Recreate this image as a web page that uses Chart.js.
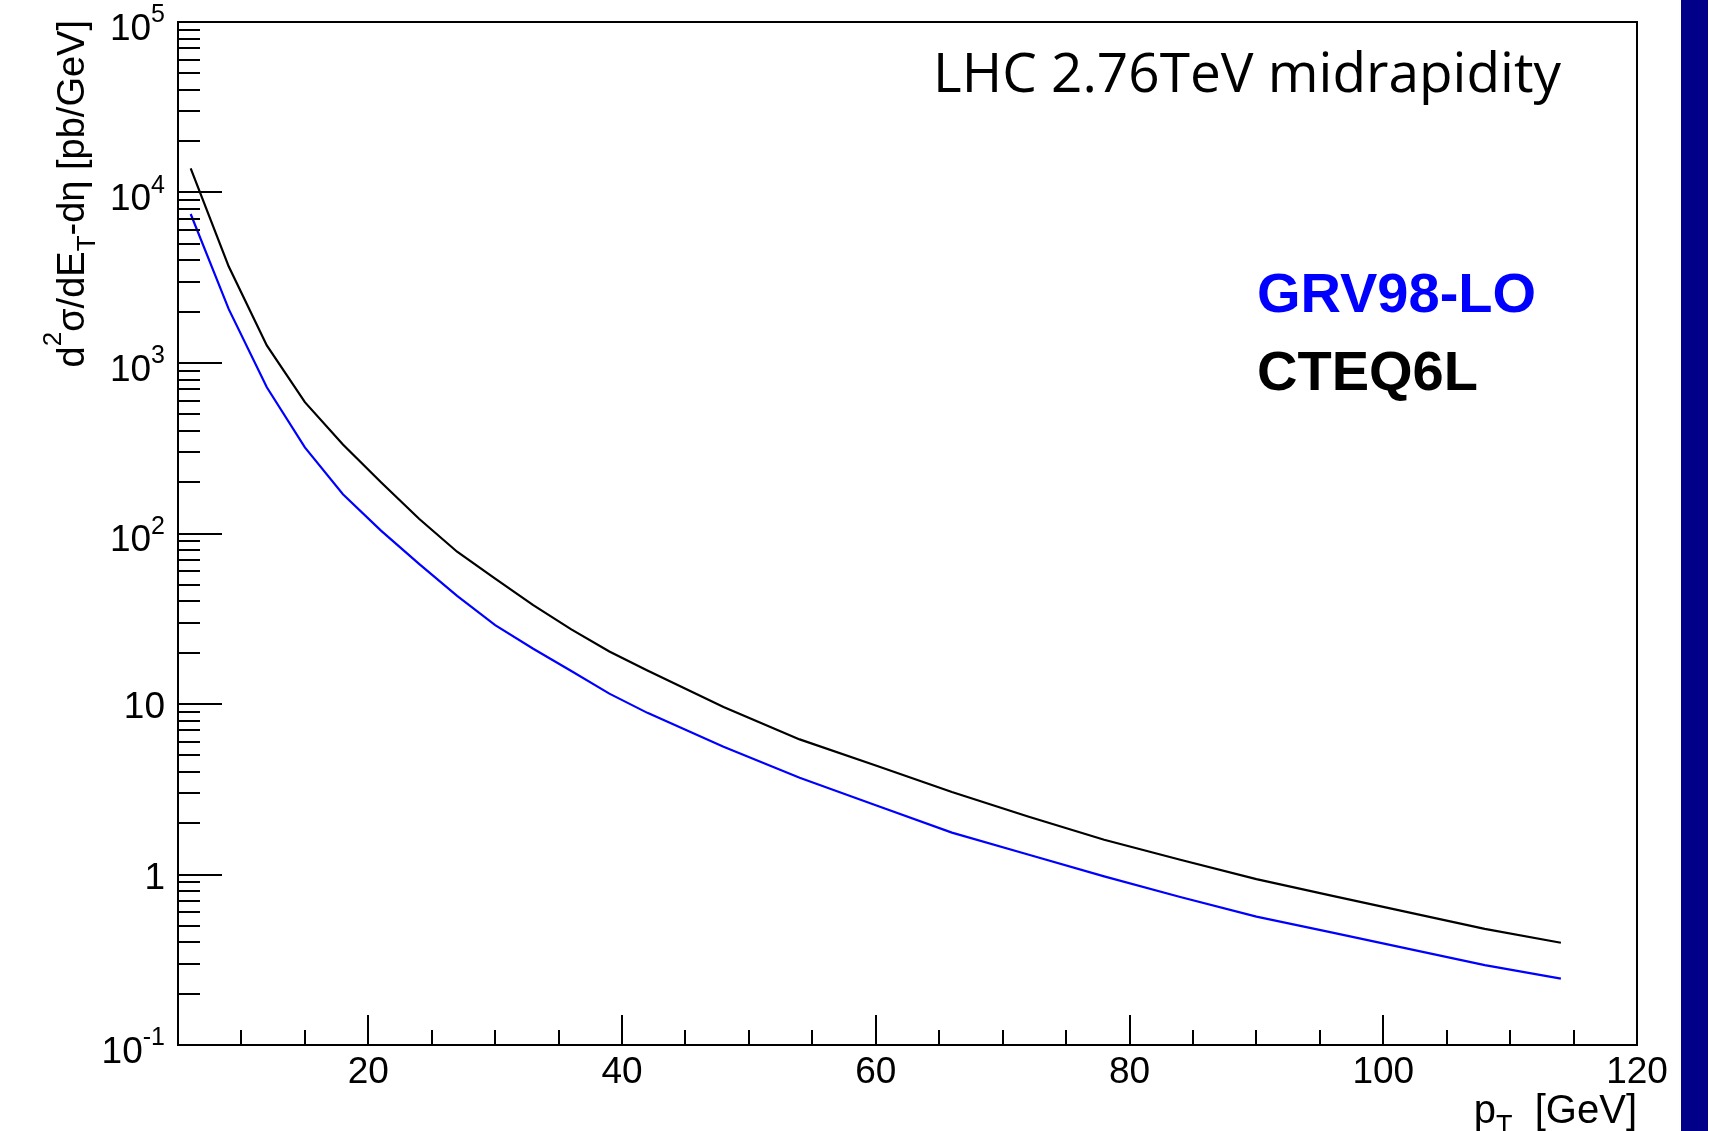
<!DOCTYPE html>
<html lang="en">
<head>
<meta charset="UTF-8">
<title>Direct photon cross section, LHC 2.76 TeV</title>
<script src="https://cdn.jsdelivr.net/npm/chart.js"></script>
<style>
  html, body { margin: 0; padding: 0; background: #fff; }
  canvas { display: block; }
</style>
</head>
<body>
<canvas id="xsecChart" width="1712" height="1131"></canvas>
<script>
// pT grid (GeV) and d2sigma/dET deta (pb/GeV) for the two PDF sets
const ptValues   = [6, 9, 12, 15, 18, 21, 24, 27, 30, 33, 36, 39, 42, 48, 54, 60, 66, 72, 78, 84, 90, 96, 102, 108, 114];
const cteqValues = [13870, 3680, 1268, 589, 333, 200, 122, 78.2, 54.3, 38.0, 27.4, 20.3, 15.7, 9.6, 6.2, 4.36, 3.05, 2.19, 1.60, 1.22, 0.94, 0.75, 0.60, 0.48, 0.398];
const grvValues  = [7480, 2070, 721, 320, 170, 104, 66.4, 43.1, 29.0, 21.1, 15.6, 11.5, 8.87, 5.61, 3.69, 2.55, 1.76, 1.31, 0.975, 0.738, 0.566, 0.456, 0.366, 0.294, 0.245];

// axis ticks
const xMajorTicks = [20, 40, 60, 80, 100, 120];
const xTickLabels = ['20', '40', '60', '80', '100', '120'];
const yDecades  = [0.1, 1, 10, 100, 1000, 10000, 100000];
const yTickBase = ['10', '1', '10', '10', '10', '10', '10'];
const yTickExp  = ['-1', '', '', '2', '3', '4', '5'];

const FONT = "'Liberation Sans', Arial, Helvetica, sans-serif";

function toPoints(vals) {
  return ptValues.map((pt, i) => ({ x: pt, y: vals[i] }));
}

// draw a run of text pieces (normal / sup / sub) starting at x, baseline y
function drawPieces(ctx, pieces, x, y, size, measureOnly, supRise) {
  let cx = x;
  const rise = supRise || 0.46;
  pieces.forEach(p => {
    const s = p.mode ? Math.round(size * 0.68) : size;
    ctx.font = s + 'px ' + FONT;
    const dy = p.mode === 'sup' ? -size * rise : (p.mode === 'sub' ? size * 0.28 : 0);
    if (!measureOnly) ctx.fillText(p.t, cx, y + dy);
    cx += ctx.measureText(p.t).width;
  });
  return cx - x;
}

const rootStyle = {
  id: 'rootStyle',
  beforeDraw(chart) {
    const ctx = chart.ctx;
    ctx.save();
    ctx.fillStyle = '#fff';
    ctx.fillRect(0, 0, chart.width, chart.height);
    // navy strip on the right edge
    ctx.fillStyle = '#000088';
    ctx.fillRect(1681, 0, 27, chart.height);
    ctx.restore();
  },
  afterDatasetsDraw(chart) {
    const { ctx, chartArea: a, scales: { x, y } } = chart;
    ctx.save();
    ctx.strokeStyle = '#000';
    ctx.fillStyle = '#000';
    ctx.lineWidth = 2;
    ctx.strokeRect(a.left, a.top, a.right - a.left, a.bottom - a.top);

    // ticks point inwards, bottom and left only
    ctx.beginPath();
    for (let v = 10; v < 120; v += 5) {
      const px = Math.round(x.getPixelForValue(v));
      const len = xMajorTicks.includes(v) ? 30 : 15;
      ctx.moveTo(px, a.bottom);
      ctx.lineTo(px, a.bottom - len);
    }
    yDecades.forEach(d => {
      for (let m = 1; m <= 9; m++) {
        const v = d * m;
        if (v > y.max * 1.0001) break;
        const py = Math.round(y.getPixelForValue(v));
        ctx.moveTo(a.left, py);
        ctx.lineTo(a.left + (m === 1 ? 44 : 22), py);
      }
    });
    ctx.stroke();

    // x tick labels
    ctx.textBaseline = 'alphabetic';
    ctx.textAlign = 'center';
    ctx.font = '37px ' + FONT;
    xMajorTicks.forEach((v, i) => {
      ctx.fillText(xTickLabels[i], x.getPixelForValue(v), 1083);
    });

    // y tick labels, right aligned with exponent
    ctx.textAlign = 'left';
    yDecades.forEach((v, i) => {
      const py = y.getPixelForValue(v);
      const pieces = [{ t: yTickBase[i] }];
      if (yTickExp[i]) pieces.push({ t: yTickExp[i], mode: 'sup' });
      const w = drawPieces(ctx, pieces, 0, 0, 37, true);
      const base = py + (yTickExp[i] ? 17.5 : 14);
      drawPieces(ctx, pieces, 165 - w, base, 37, false);
    });

    // x axis title
    const xTitle = [{ t: 'p' }, { t: 'T', mode: 'sub' }, { t: '  [GeV]' }];
    const xw = drawPieces(ctx, xTitle, 0, 0, 40, true);
    drawPieces(ctx, xTitle, a.right - xw, 1123, 40, false);

    // y axis title, rotated, aligned to the top of the frame
    const yTitle = [{ t: 'd' }, { t: '2', mode: 'sup' }, { t: 'σ/dE' }, { t: 'T', mode: 'sub' }, { t: '-dη [pb/GeV]' }];
    const yw = drawPieces(ctx, yTitle, 0, 0, 38, true, 0.6);
    ctx.save();
    ctx.translate(84, 0);
    ctx.rotate(-Math.PI / 2);
    drawPieces(ctx, yTitle, -20 - yw, 0, 38, false, 0.6);
    ctx.restore();

    // header text
    ctx.font = "55px 'Comic Sans MS', 'Open Sans', sans-serif";
    const head = 'LHC 2.76TeV midrapidity';
    const hw = ctx.measureText(head).width;
    const sx = Math.min(1, 628 / hw);
    ctx.save();
    ctx.translate(1561, 92);
    ctx.scale(sx, 1);
    ctx.textAlign = 'right';
    ctx.fillText(head, 0, 0);
    ctx.restore();

    // legend
    ctx.textAlign = 'left';
    ctx.font = 'bold 56px ' + FONT;
    ctx.fillStyle = '#0000ff';
    ctx.fillText('GRV98-LO', 1257, 312);
    ctx.fillStyle = '#000';
    ctx.fillText('CTEQ6L', 1257, 390);
    ctx.restore();
  }
};

new Chart(document.getElementById('xsecChart'), {
  type: 'line',
  data: {
    datasets: [
      {
        label: 'CTEQ6L',
        data: toPoints(cteqValues),
        borderColor: '#000000',
        borderWidth: 2.2,
        pointRadius: 0,
        tension: 0,
        fill: false
      },
      {
        label: 'GRV98-LO',
        data: toPoints(grvValues),
        borderColor: '#0000ff',
        borderWidth: 2.2,
        pointRadius: 0,
        tension: 0,
        fill: false
      }
    ]
  },
  options: {
    responsive: false,
    devicePixelRatio: 1,
    animation: false,
    layout: { padding: { left: 178, right: 75, top: 22, bottom: 86 } },
    scales: {
      x: { type: 'linear', min: 5, max: 120, display: false },
      y: { type: 'logarithmic', min: 0.1, max: 100000, display: false }
    },
    plugins: {
      legend: { display: false },
      tooltip: { enabled: false }
    }
  },
  plugins: [rootStyle]
});
</script>
</body>
</html>
